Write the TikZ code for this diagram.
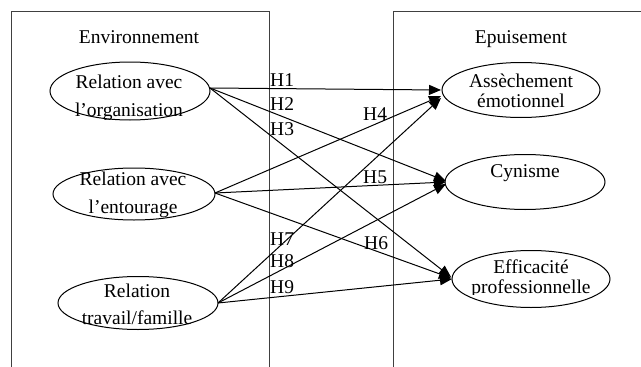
\documentclass[tikz,border=0pt]{standalone}
\usepackage{fontspec}
\setmainfont{Liberation Serif}
\usetikzlibrary{arrows.meta,shapes.geometric}
\begin{document}
\begin{tikzpicture}[x=1pt,y=-1pt,
  ell/.style={draw,ellipse,line width=1pt,inner sep=0pt},
  txt/.style={anchor=base,inner sep=0pt,font=\fontsize{19.5}{24}\selectfont},
  arr/.style={line width=1pt,-{Triangle[length=12pt,width=10pt]}},
  frame/.style={line width=1pt,draw=black!75}]
\useasboundingbox (0,0) rectangle (641,367);
% boxes
\draw[frame] (11,367) -- (11,11) -- (269,11) -- (269,367);
\draw[frame] (393,367) -- (393,11) -- (641,11);
\node[txt] (envt) at (139,43) {Environnement};
\node[txt] (epui) at (521,43) {Epuisement};
% ellipses
\node[ell,minimum width=160pt,minimum height=58pt] (e1) at (130,91) {};
\node[ell,minimum width=162pt,minimum height=52pt] (e2) at (134,194) {};
\node[ell,minimum width=160pt,minimum height=53pt] (e3) at (138,303) {};
\node[ell,minimum width=158pt,minimum height=55pt] (r1) at (521,90) {};
\node[ell,minimum width=160pt,minimum height=55pt] (r2) at (525,182) {};
\node[ell,minimum width=158pt,minimum height=57pt] (r3) at (531,279) {};
% ellipse texts
\node[txt] (e1a) at (129,88) {Relation avec};
\begin{scope}\clip (40,95) rectangle (220,119);
\node[txt] (e1b) at (129,116) {l’organisation};\end{scope}
\node[txt] (e2a) at (133,185) {Relation avec};
\begin{scope}\clip (40,192) rectangle (220,217);
\node[txt] (e2b) at (133,213) {l’entourage};\end{scope}
\node[txt] (e3a) at (137,297) {Relation};
\begin{scope}\clip (40,303) rectangle (230,327);
\node[txt] (e3b) at (137,324) {travail/famille};\end{scope}
\node[txt] (r1a) at (521,87) {Assèchement};
\begin{scope}\clip (440,92) rectangle (610,109);
\node[txt] (r1b) at (521,107) {émotionnel};\end{scope}
\node[txt] (r2a) at (525,177) {Cynisme};
\node[txt] (r3a) at (531,273) {Efficacité};
\begin{scope}\clip (440,278) rectangle (620,294.5);
\node[txt] (r3b) at (531,293) {professionnelle};\end{scope}
% connector end points
\coordinate (s1) at (210,88);
\coordinate (s2) at (215,193);
\coordinate (s3) at (218,303);
\coordinate (t1a) at (441,90);
\coordinate (t1b) at (441,96);
\coordinate (t1c) at (441,98);
\coordinate (t2a) at (446,181);
\coordinate (t2b) at (446,182);
\coordinate (t2c) at (446,184);
\coordinate (t3a) at (451,277);
\coordinate (t3b) at (451,278);
\coordinate (t3c) at (452,279);
% arrows
\draw[arr] (s1) -- (t1a);
\draw[arr] (s1) -- (t2a);
\draw[arr] (s1) -- (t3a);
\draw[arr] (s2) -- (t1b);
\draw[arr] (s2) -- (t2b);
\draw[arr] (s2) -- (t3b);
\draw[arr] (s3) -- (t1c);
\draw[arr] (s3) -- (t2c);
\draw[arr] (s3) -- (t3c);
% labels
\node[txt,anchor=base west] (h1) at (270,86) {H1};
\node[txt,anchor=base west] (h2) at (270,110) {H2};
\node[txt,anchor=base west] (h3) at (270,135) {H3};
\node[txt,anchor=base west] (h4) at (363,120) {H4};
\node[txt,anchor=base west] (h5) at (363,183) {H5};
\node[txt,anchor=base west] (h6) at (364,249) {H6};
\node[txt,anchor=base west] (h7) at (270,245) {H7};
\node[txt,anchor=base west] (h8) at (270,267) {H8};
\node[txt,anchor=base west] (h9) at (270,293) {H9};
\end{tikzpicture}
\end{document}
